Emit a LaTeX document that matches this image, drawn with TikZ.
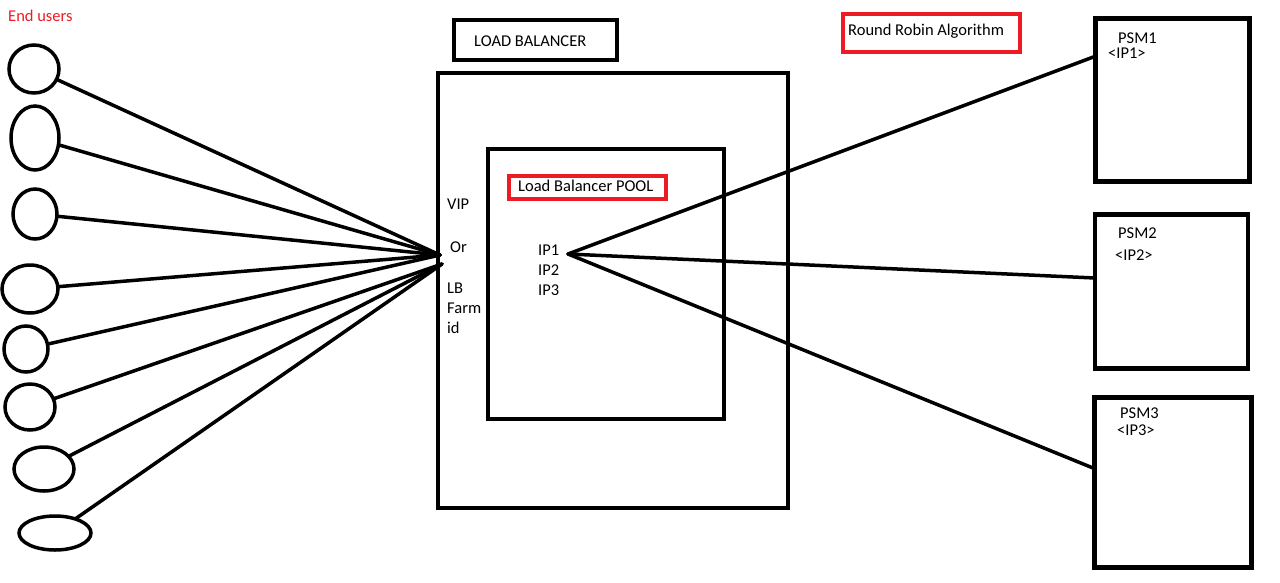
\documentclass[tikz,border=0pt]{standalone}
\usepackage{fontspec}
\setmainfont{Carlito}
\usetikzlibrary{shapes.geometric}
\definecolor{pred}{RGB}{237,28,36}
\tikzset{
  lbl/.style={anchor=base west, inner sep=0pt, font=\fontsize{16.5}{18}\selectfont},
  user/.style={ellipse, draw, line width=3.5pt, inner sep=0pt, outer sep=0pt},
  box/.style={rectangle, draw, line width=4pt, anchor=north west, inner sep=0pt, outer sep=0pt},
  redbox/.style={rectangle, draw=pred, line width=3.2pt, anchor=north west, inner sep=0pt, outer sep=0pt},
  wire/.style={line width=3.5pt, line cap=round}
}
\begin{document}
\begin{tikzpicture}[x=1pt,y=-1pt]
\useasboundingbox[fill=white] (0,0) rectangle (1280,582);

% end users
\node[lbl, text=pred] (eu) at (8,21) {End users};
\node[user, minimum width=50pt, minimum height=48pt] (e1) at (34,69) {};
\node[user, minimum width=48pt, minimum height=64pt] (e2) at (35,138) {};
\node[user, minimum width=44pt, minimum height=50pt] (e3) at (35,214) {};
\node[user, minimum width=56pt, minimum height=48pt] (e4) at (30,289) {};
\node[user, minimum width=44pt, minimum height=46pt] (e5) at (26,349) {};
\node[user, minimum width=50pt, minimum height=46pt] (e6) at (30,407) {};
\node[user, minimum width=60pt, minimum height=44pt] (e7) at (44,469) {};
\node[user, minimum width=72pt, minimum height=34pt] (e8) at (55,533) {};

% load balancer
\node[box, minimum width=163pt, minimum height=40pt] (lbt) at (454,20) {};
\node[lbl] (lbtext) at (474,46) {LOAD BALANCER};
\node[box, line width=3.5pt, minimum width=350pt, minimum height=435pt] (outer) at (438,73) {};
\node[box, line width=3.5pt, minimum width=236pt, minimum height=270pt] (inner) at (488,149) {};
\node[redbox, minimum width=157pt, minimum height=23pt] (poolbox) at (509,176) {};
\node[lbl] (pool) at (518,191) {Load Balancer POOL};
\node[redbox, minimum width=177pt, minimum height=38pt] (rrbox) at (843,14) {};
\node[lbl] (rr) at (848,35) {Round Robin Algorithm};

\node[lbl] (vip) at (447,209) {VIP};
\node[lbl] (or) at (450,252) {Or};
\node[lbl] (lb) at (447,293) {LB};
\node[lbl] (farm) at (447,313) {Farm};
\node[lbl] (id) at (447,333) {id};

\node[lbl] (ip1) at (538,255) {IP1};
\node[lbl] (ip2) at (538,275) {IP2};
\node[lbl] (ip3) at (538,295) {IP3};

% PSM boxes
\node[box, line width=4.5pt, minimum width=154pt, minimum height=163pt] (psm1) at (1095.5,18.5) {};
\node[lbl] (psm1t) at (1118,43) {PSM1};
\node[lbl] (psm1ip) at (1108,58) {<IP1>};
\node[box, line width=4.5pt, minimum width=153pt, minimum height=154pt] (psm2) at (1095,214.5) {};
\node[lbl] (psm2t) at (1118,238) {PSM2};
\node[lbl] (psm2ip) at (1115,260) {<IP2>};
\node[box, line width=4.5pt, minimum width=157pt, minimum height=170pt] (psm3) at (1094.5,397.5) {};
\node[lbl] (psm3t) at (1120,418) {PSM3};
\node[lbl] (psm3ip) at (1117,435) {<IP3>};

% connection points
\coordinate (va) at (440,255);
\coordinate (vb) at (442,264);
\coordinate (hub) at (568,254);
\coordinate (p1) at (1096,56);
\coordinate (p2) at (1095,278);
\coordinate (p3) at (1093,468);

\draw[wire] (e1) -- (va);
\draw[wire] (e2) -- (va);
\draw[wire] (e3) -- (va);
\draw[wire] (e4) -- (va);
\draw[wire] (e5) -- (va);
\draw[wire] (e6) -- (vb);
\draw[wire] (e7) -- (vb);
\draw[wire] (e8) -- (vb);

\draw[wire] (hub) -- (p1);
\draw[wire] (hub) -- (p2);
\draw[wire] (hub) -- (p3);
\end{tikzpicture}
\end{document}
